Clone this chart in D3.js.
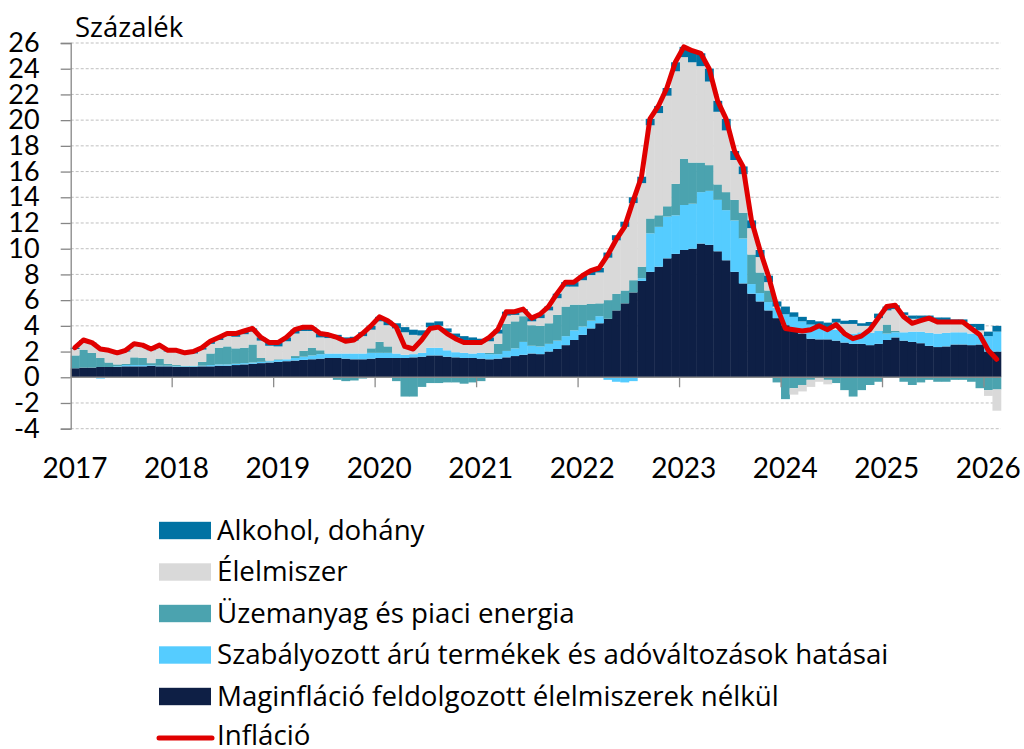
<!DOCTYPE html>
<html>
<head>
<meta charset="utf-8">
<script src="https://cdn.jsdelivr.net/npm/d3@7"></script>
<style>
  body { margin: 0; background: #fff; }
  text { font-family: Lato, "Liberation Sans", sans-serif; fill: #000; }
  .legend-text, .unit-label { font-family: "Open Sans", Lato, sans-serif; }
</style>
</head>
<body>
<div id="chart"></div>
<script>
// Monthly contributions to CPI, Jan 2017 - Feb 2026 (percentage points)
const years = ["2017", "2018", "2019", "2020", "2021", "2022", "2023", "2024", "2025", "2026"];
const yTicks = [-4, -2, 0, 2, 4, 6, 8, 10, 12, 14, 16, 18, 20, 22, 24, 26];

const inflation = [
  2.3, 2.9, 2.7, 2.2, 2.1, 1.9, 2.1, 2.6, 2.5, 2.2, 2.5, 2.1,
  2.1, 1.9, 2.0, 2.3, 2.8, 3.1, 3.4, 3.4, 3.6, 3.8, 3.1, 2.7,
  2.7, 3.1, 3.7, 3.9, 3.9, 3.4, 3.3, 3.1, 2.8, 2.9, 3.4, 4.0,
  4.7, 4.4, 3.9, 2.4, 2.2, 2.9, 3.8, 3.9, 3.4, 3.0, 2.7, 2.7,
  2.7, 3.1, 3.7, 5.1, 5.1, 5.3, 4.6, 4.9, 5.5, 6.5, 7.4, 7.4,
  7.9, 8.3, 8.5, 9.5, 10.7, 11.7, 13.7, 15.6, 20.1, 21.1, 22.5, 24.5,
  25.7, 25.4, 25.2, 24.0, 21.5, 20.1, 17.6, 16.4, 12.2, 9.9, 7.9, 5.5,
  3.8, 3.7, 3.6, 3.7, 4.0, 3.7, 4.1, 3.4, 3.0, 3.2, 3.7, 4.6,
  5.5, 5.6, 4.7, 4.2, 4.4, 4.6, 4.3, 4.3, 4.3, 4.3, 3.8, 3.3,
  2.1, 1.4
];

const core = [
  0.7, 0.75, 0.75, 0.8, 0.8, 0.8, 0.85, 0.85, 0.85, 0.9, 0.85, 0.85,
  0.8, 0.8, 0.8, 0.85, 0.85, 0.9, 0.9, 0.95, 1.0, 1.05, 1.1, 1.15,
  1.2, 1.25, 1.3, 1.35, 1.4, 1.45, 1.5, 1.5, 1.45, 1.4, 1.4, 1.45,
  1.5, 1.5, 1.5, 1.5, 1.55, 1.6, 1.7, 1.7, 1.6, 1.55, 1.5, 1.5,
  1.45, 1.4, 1.45, 1.55, 1.65, 1.75, 1.85, 1.8, 2.0, 2.2, 2.5, 2.9,
  3.3, 3.8, 4.2, 4.55, 5.2, 5.75, 6.6, 7.5, 8.2, 8.6, 9.25, 9.6,
  9.9, 10.0, 10.4, 10.3, 9.8, 9.1, 8.2, 7.3, 6.5, 5.9, 5.2, 4.6,
  4.05, 3.8, 3.4, 3.0, 2.95, 2.95, 2.85, 2.7, 2.6, 2.6, 2.5, 2.6,
  2.9, 3.1, 2.85, 2.75, 2.65, 2.45, 2.35, 2.4, 2.55, 2.55, 2.5, 2.55,
  2.0, 2.0
];

const regulated = [
  0.0, 0.0, 0.0, -0.1, 0.0, 0.05, 0.1, 0.1, 0.1, 0.05, 0.05, 0.05,
  0.05, 0.05, 0.05, 0.05, 0.1, 0.1, 0.1, 0.1, 0.1, 0.1, 0.1, 0.1,
  0.15, 0.15, 0.2, 0.25, 0.3, 0.35, 0.35, 0.35, 0.4, 0.45, 0.45, 0.45,
  0.4, 0.4, 0.35, 0.25, 0.25, 0.3, 0.6, 0.6, 0.5, 0.4, 0.4, 0.35,
  0.45, 0.4, 0.35, 0.5, 0.6, 1.0, 0.6, 0.6, 0.6, 0.65, 0.7, 0.75,
  0.65, 0.6, 0.55, -0.2, -0.35, -0.4, -0.3, 0.2, 3.0, 3.1, 3.25, 3.0,
  3.5, 3.5, 4.0, 4.2, 4.0, 3.9, 4.0, 3.5, 0.75, 0.65, 0.65, 0.8,
  0.85, 0.9, 0.95, 1.1, 1.0, 0.9, 0.85, 0.7, 0.8, 0.9, 0.95, 1.0,
  0.5, 0.4, 0.65, 0.8, 0.9, 1.0, 1.05, 1.05, 0.95, 0.95, 0.9, 0.75,
  1.2, 1.55
];

const fuel = [
  1.0, 1.4, 1.15, 0.7, 0.35, 0.15, 0.1, 0.6, 0.55, 0.15, 0.55, 0.15,
  0.1, 0.05, 0.05, 0.3, 0.9, 1.3, 1.4, 1.2, 1.2, 1.4, 0.3, 0.05,
  0.05, 0.0, 0.15, 0.45, 0.6, 0.3, -0.05, -0.2, -0.3, -0.25, -0.1, 0.35,
  0.85, 0.5, -0.3, -1.5, -1.5, -0.75, -0.45, -0.45, -0.4, -0.4, -0.5, -0.4,
  -0.3, 0.1, 0.8, 2.1, 2.1, 2.0, 1.6, 1.6, 1.6, 2.0, 2.3, 2.0,
  1.7, 1.3, 1.0, 1.45, 1.3, 1.0, 0.95, 0.9, 1.15, 0.9, 0.8, 2.45,
  3.6, 3.2, 2.3, 2.0, 1.2, 1.4, 1.6, 2.0, 2.3, 1.6, 0.9, -0.4,
  -1.7, -0.85, -0.6, -0.2, 0.0, -0.2, -0.45, -1.0, -1.5, -1.0, -0.6, -0.35,
  0.7, 0.1, -0.35, -0.6, -0.4, -0.2, -0.35, -0.35, -0.2, -0.2, -0.35, -0.85,
  -1.0, -0.95
];

const food = [
  0.5, 0.65, 0.7, 0.7, 0.85, 0.8, 0.95, 0.95, 0.9, 1.0, 0.95, 0.95,
  1.05, 0.9, 0.95, 0.95, 0.75, 0.6, 0.8, 0.9, 1.05, 1.0, 1.35, 1.15,
  1.0, 1.4, 1.75, 1.55, 1.3, 1.0, 1.2, 1.15, 0.95, 1.0, 1.35, 1.45,
  1.6, 1.65, 1.95, 1.75, 1.5, 1.35, 1.6, 1.7, 1.4, 1.15, 1.0, 0.95,
  0.8, 0.9, 0.8, 0.65, 0.5, 0.3, 0.3, 0.6, 1.0, 1.3, 1.55, 1.4,
  1.9, 2.25, 2.4, 3.3, 4.15, 4.95, 6.0, 6.5, 7.25, 7.95, 8.6, 8.75,
  7.9, 7.8, 7.5, 6.5, 5.65, 4.8, 3.1, 3.0, 2.05, 1.2, 0.65, 0.1,
  0.0, -0.5, -0.5, -0.55, -0.35, -0.35, 0.55, 0.75, 0.75, 0.5, 0.55, 1.0,
  1.1, 1.7, 1.35, 1.0, 1.0, 1.1, 1.05, 1.0, 0.9, 0.8, 0.5, 0.35,
  -0.45, -1.65
];

const alcohol = [
  0.1, 0.1, 0.1, 0.1, 0.1, 0.1, 0.1, 0.1, 0.1, 0.1, 0.1, 0.1,
  0.1, 0.1, 0.15, 0.15, 0.2, 0.2, 0.2, 0.25, 0.25, 0.25, 0.25, 0.25,
  0.3, 0.3, 0.3, 0.3, 0.3, 0.3, 0.3, 0.3, 0.3, 0.3, 0.3, 0.3,
  0.35, 0.35, 0.4, 0.4, 0.4, 0.4, 0.35, 0.35, 0.3, 0.3, 0.3, 0.3,
  0.3, 0.3, 0.3, 0.3, 0.25, 0.25, 0.25, 0.3, 0.3, 0.35, 0.35, 0.35,
  0.35, 0.35, 0.35, 0.4, 0.4, 0.4, 0.45, 0.5, 0.5, 0.55, 0.6, 0.7,
  0.8, 0.9, 1.0, 1.0, 0.85, 0.9, 0.7, 0.6, 0.6, 0.55, 0.5, 0.4,
  0.6, 0.35, 0.35, 0.35, 0.4, 0.4, 0.3, 0.25, 0.3, 0.2, 0.3, 0.35,
  0.3, 0.3, 0.2, 0.25, 0.25, 0.25, 0.2, 0.2, 0.1, 0.2, 0.25, 0.5,
  0.35, 0.45
];

// series order bottom -> top, with legend labels and colours
const seriesKeys = ["core", "regulated", "fuel", "food", "alcohol"];
const seriesNames = {
  alcohol: "Alkohol, dohány",
  food: "Élelmiszer",
  fuel: "Üzemanyag és piaci energia",
  regulated: "Szabályozott árú termékek és adóváltozások hatásai",
  core: "Maginfláció feldolgozott élelmiszerek nélkül",
};
const colorMap = {
  alcohol: "#0072A3",
  food: "#D9D9D9",
  fuel: "#4BA3AF",
  regulated: "#55CCFF",
  core: "#0E1F45",
};
const lineColor = "#E00000";

// month index table built from the arrays
const table = inflation.map((v, i) => ({
  idx: i,
  core: core[i],
  regulated: regulated[i],
  fuel: fuel[i],
  food: food[i],
  alcohol: alcohol[i],
  inflation: v,
}));

const W = 1024, H = 749;
const plot = { left: 70.7, right: 1000.9, top: 43, bottom: 428.7 };

const svg = d3
  .select("#chart")
  .append("svg")
  .attr("width", W)
  .attr("height", H);

const x = d3
  .scaleBand()
  .domain(table.map((d) => d.idx))
  .range([plot.left, plot.right])
  .padding(0);

const y = d3.scaleLinear().domain([-4, 26]).range([plot.bottom, plot.top]);

// Dashed grid lines
svg
  .append("g")
  .selectAll("line")
  .data(yTicks.filter((t) => t !== 0))
  .enter()
  .append("line")
  .attr("x1", plot.left)
  .attr("x2", plot.right)
  .attr("y1", (d) => y(d))
  .attr("y2", (d) => y(d))
  .attr("stroke", "#BFBFBF")
  .attr("stroke-width", 1)
  .attr("stroke-dasharray", "3,2");

// Stacked bars (negatives stack below zero)
const stacked = d3
  .stack()
  .keys(seriesKeys)
  .offset(d3.stackOffsetDiverging)(table);

svg
  .append("g")
  .selectAll("g")
  .data(stacked)
  .enter()
  .append("g")
  .attr("fill", (s) => colorMap[s.key])
  .selectAll("rect")
  .data((s) => s)
  .enter()
  .append("rect")
  .attr("x", (d) => x(d.data.idx))
  .attr("width", x.bandwidth() + 0.4)
  .attr("y", (d) => y(Math.max(d[0], d[1])))
  .attr("height", (d) => Math.abs(y(d[0]) - y(d[1])));

// Y axis
const yAxis = svg
  .append("g")
  .attr("transform", `translate(${plot.left},0)`)
  .call(
    d3
      .axisLeft(y)
      .tickValues(yTicks)
      .tickSize(10)
      .tickPadding(21)
      .tickFormat((d) => String(d))
  );
yAxis.select(".domain").attr("stroke", "#868686").attr("stroke-width", 1.3);
yAxis.selectAll(".tick line").attr("stroke", "#868686").attr("stroke-width", 1.3);
yAxis.selectAll("text").style("font-size", "27px").attr("fill", "#000");

// Zero line with year tick marks
svg
  .append("line")
  .attr("x1", plot.left)
  .attr("x2", plot.right)
  .attr("y1", y(0))
  .attr("y2", y(0))
  .attr("stroke", "#8C8C8C")
  .attr("stroke-width", 1.3);

const janIdx = years.map((yr, k) => k * 12);

svg
  .append("g")
  .selectAll("line")
  .data(janIdx.slice(1))
  .enter()
  .append("line")
  .attr("x1", (d) => x(d))
  .attr("x2", (d) => x(d))
  .attr("y1", y(0))
  .attr("y2", y(0) + 10)
  .attr("stroke", "#8C8C8C")
  .attr("stroke-width", 1.3);

// Year labels at January bars
svg
  .append("g")
  .selectAll("text")
  .data(years)
  .enter()
  .append("text")
  .attr("x", (d, k) => x(janIdx[k]) + x.bandwidth() / 2)
  .attr("y", 478)
  .attr("text-anchor", "middle")
  .style("font-size", "28px")
  .text((d) => d);

// Unit label
svg
  .append("text")
  .attr("class", "unit-label")
  .attr("x", 75)
  .attr("y", 37)
  .style("font-size", "27.5px")
  .text("Százalék");

// Inflation line
const line = d3
  .line()
  .x((d) => x(d.idx) + x.bandwidth() / 2)
  .y((d) => y(d.inflation));

svg
  .append("path")
  .datum(table)
  .attr("fill", "none")
  .attr("stroke", lineColor)
  .attr("stroke-width", 5)
  .attr("stroke-linejoin", "round")
  .attr("stroke-linecap", "round")
  .attr("d", line);

// Legend
const legendKeys = ["alcohol", "food", "fuel", "regulated", "core"];
const legend = svg.append("g").attr("transform", "translate(159,0)");
const rowY = (k) => 530.5 + k * 41.5;

legendKeys.forEach((key, k) => {
  legend
    .append("rect")
    .attr("x", 0)
    .attr("y", rowY(k) - 8.7)
    .attr("width", 52)
    .attr("height", 17.4)
    .attr("fill", colorMap[key]);
  legend
    .append("text")
    .attr("class", "legend-text")
    .attr("x", 58)
    .attr("y", rowY(k) + 9)
    .style("font-size", "27.7px")
    .text(seriesNames[key]);
});

legend
  .append("line")
  .attr("x1", 0)
  .attr("x2", 53)
  .attr("y1", rowY(5))
  .attr("y2", rowY(5))
  .attr("stroke", lineColor)
  .attr("stroke-width", 5)
  .attr("stroke-linecap", "round");
legend
  .append("text")
  .attr("class", "legend-text")
  .attr("x", 58)
  .attr("y", rowY(5) + 7)
  .style("font-size", "27.7px")
  .text("Infláció");
</script>
</body>
</html>
